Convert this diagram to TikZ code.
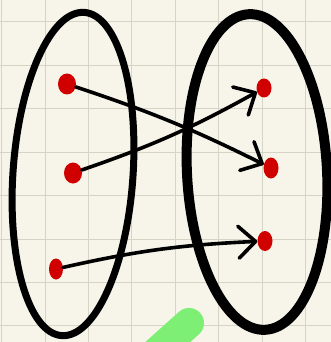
\documentclass[tikz,border=0pt]{standalone}
\usepackage{tikz}
\usetikzlibrary{arrows.meta}
\usetikzlibrary{positioning,shapes.geometric}

\definecolor{paper}{HTML}{F7F5E9}
\definecolor{gridgray}{HTML}{D6D4C6}
\definecolor{dotred}{HTML}{D00000}
\definecolor{marker}{HTML}{7DEF74}

\tikzset{
  dot/.style={ellipse,fill=dotred,inner sep=0pt,minimum width=18pt,minimum height=21pt},
  mapsto/.style={line width=3.6pt,line cap=round,
    -{Straight Barb[length=17pt,width=32pt,line width=3.6pt,round]}},
  gridline/.style={gridgray,line width=1pt}
}

\begin{document}
\begin{tikzpicture}[x=1pt,y=-1pt]
  \fill[paper] (0,0) rectangle (331,342);
  \useasboundingbox (0,0) rectangle (331,342);
  % grid
  \foreach \x in {1.6,45,88.4,131.8,175.2,218.6,262,305.4}
    \draw[gridline] (\x,0) -- (\x,342);
  \foreach \y in {22,65.4,108.8,152.2,195.6,239,282.4,325.8}
    \draw[gridline] (0,\y) -- (331,\y);
  % the two sets
  \draw[line width=7pt,rotate around={-4:(73,174)}] (73,174) ellipse (60 and 162);
  \draw[line width=10pt,rotate around={3:(257,172)}] (257,172) ellipse (70 and 158);
  % elements
  \node[dot] (a1) at (67,84) {};
  \node[dot] (a2) at (73,173) {};
  \node[dot,minimum width=14pt] (a3) at (56,269) {};
  \node[dot,minimum width=15pt,minimum height=19pt] (b1) at (264,88) {};
  \node[dot,minimum width=15pt,minimum height=21pt] (b2) at (271,168) {};
  \node[dot,minimum width=15pt,minimum height=20pt] (b3) at (265,241) {};
  % the map
  \draw[mapsto] (a1) to[bend left=4] (b2);
  \draw[mapsto] (a2) to[bend right=5] (b1);
  \draw[mapsto] (a3) to[bend left=5] (b3);
  % marker stroke
  \draw[marker,line width=30pt,line cap=round] (189,323) -- (150,358);
\end{tikzpicture}
\end{document}
